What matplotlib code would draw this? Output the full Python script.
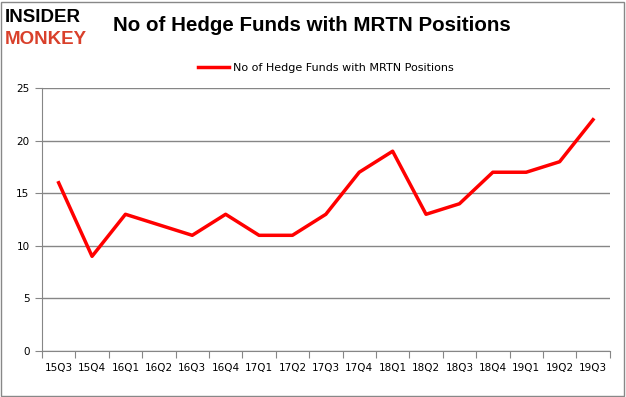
import matplotlib.pyplot as plt
import numpy as np

quarters = ['15Q3', '15Q4', '16Q1', '16Q2', '16Q3', '16Q4', '17Q1', '17Q2', '17Q3',
            '17Q4', '18Q1', '18Q2', '18Q3', '18Q4', '19Q1', '19Q2', '19Q3']
funds = [16, 9, 13, 12, 11, 13, 11, 11, 13, 17, 19, 13, 14, 17, 17, 18, 22]
y_ticks = [0, 5, 10, 15, 20, 25]

fig = plt.figure(figsize=(6.26, 3.97), dpi=100)
fig.patch.set_facecolor('white')

# outer grey frame
fig.add_artist(plt.Rectangle((0.002, 0.003), 0.995, 0.993, transform=fig.transFigure,
                             fill=False, edgecolor='#888888', linewidth=1))

ax = fig.add_axes([0.067, 0.116, 0.907, 0.662])
x = np.arange(len(quarters))
ax.plot(x, funds, color='#ff0000', linewidth=2.5, label='No of Hedge Funds with MRTN Positions')

ax.set_xlim(-0.5, len(quarters) - 0.5)
ax.set_ylim(0, 25)
ax.set_yticks(y_ticks)
ax.yaxis.grid(True, color='#868686', linewidth=1)
ax.set_axisbelow(True)

# category ticks between labels, labels centred
ax.set_xticks(np.arange(-0.5, len(quarters)), minor=False)
ax.set_xticklabels([])
ax.set_xticks(x, minor=True)
ax.set_xticklabels(quarters, minor=True)
ax.tick_params(axis='x', which='major', length=5, color='#868686')
ax.tick_params(axis='x', which='minor', length=0, pad=9, labelsize=7.5)
ax.tick_params(axis='y', length=5, color='#868686', labelsize=7.5, pad=4)

for s in ['top', 'right']:
    ax.spines[s].set_visible(False)
ax.spines['left'].set_color('#868686')
ax.spines['bottom'].set_color('#868686')

ax.legend(loc='lower center', bbox_to_anchor=(0.5, 1.02), frameon=False, fontsize=8,
          handlelength=2.8, handletextpad=0.3)

fig.text(0.181, 0.935, 'No of Hedge Funds with MRTN Positions', fontsize=14.8,
         fontweight='bold', va='center', ha='left', family='Liberation Sans')
fig.text(0.008, 0.955, 'INSIDER', fontsize=13.5, fontweight='bold', color='black',
         va='center', ha='left', family='Liberation Sans')
fig.text(0.008, 0.9, 'MONKEY', fontsize=13.5, fontweight='bold', color='#d9402b',
         va='center', ha='left', family='Liberation Sans')

fig.savefig('out.png', dpi=100, facecolor='white')
